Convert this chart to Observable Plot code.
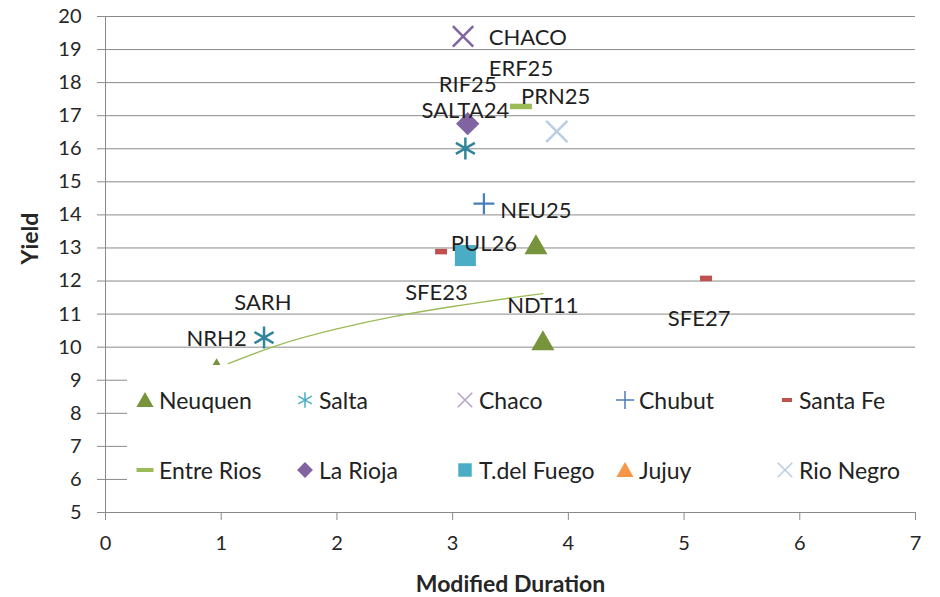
<!DOCTYPE html>
<html>
<head>
<meta charset="utf-8">
<script src="https://cdn.jsdelivr.net/npm/d3@7"></script>
<script src="https://cdn.jsdelivr.net/npm/@observablehq/plot@0.6"></script>
<style>
  html, body { margin: 0; padding: 0; background: #fff; }
  #wrap { position: relative; width: 940px; height: 597px; font-family: Lato, "Open Sans", sans-serif; }
  #legend { position: absolute; left: 127px; top: 365px; width: 800px; height: 146px; background: #fff; }
  .item { position: absolute; display: flex; align-items: center; height: 30px; font-size: 23px; color: #222; white-space: nowrap; }
  .item svg { width: 20px; height: 24px; margin-right: 4px; overflow: visible; }
</style>
</head>
<body>
<div id="wrap"><div id="legend"></div></div>
<script>
// ---- data ----
const xTicks = [0, 1, 2, 3, 4, 5, 6, 7];
const yTicks = [5, 6, 7, 8, 9, 10, 11, 12, 13, 14, 15, 16, 17, 18, 19, 20];
const xLabel = "Modified Duration";
const yLabel = "Yield";

const neuquen   = [{x: 0.96, y: 9.26}, {x: 3.72, y: 13.01}, {x: 3.78, y: 10.11}];
const salta     = [{x: 1.37, y: 10.29}, {x: 3.11, y: 16.01}];
const chaco     = [{x: 3.09, y: 19.40}];
const chubut    = [{x: 3.27, y: 14.34}];
const santaFe   = [{x: 2.90, y: 12.89}, {x: 5.19, y: 12.08}];
const entreRios = [{x: 3.59, y: 17.28}];
const laRioja   = [{x: 3.13, y: 16.76}];
const tdf       = [{x: 3.11, y: 12.77}];
const jujuy     = [];
const rioNegro  = [{x: 3.90, y: 16.52}];

// Neuquen trend line
const trend = [
  {x: 1.06, y: 9.50}, {x: 1.5, y: 10.07}, {x: 2.0, y: 10.55}, {x: 2.5, y: 10.93},
  {x: 3.0, y: 11.23}, {x: 3.5, y: 11.49}, {x: 3.78, y: 11.62}
];

// point labels (centre of each label, in data units)
const pointLabels = [
  {text: "CHACO",   x: 3.65, y: 19.36},
  {text: "ERF25",   x: 3.59, y: 18.40},
  {text: "RIF25",   x: 3.13, y: 17.93},
  {text: "SALTA24", x: 3.11, y: 17.14},
  {text: "PRN25",   x: 3.89, y: 17.58},
  {text: "NEU25",   x: 3.72, y: 14.13},
  {text: "PUL26",   x: 3.27, y: 13.13},
  {text: "SFE23",   x: 2.86, y: 11.65},
  {text: "NDT11",   x: 3.78, y: 11.26},
  {text: "SFE27",   x: 5.13, y: 10.85},
  {text: "SARH",    x: 1.36, y: 11.35},
  {text: "NRH2",    x: 0.96, y: 10.26}
];

const seriesNames  = ["Neuquen", "Salta", "Chaco", "Chubut", "Santa Fe", "Entre Rios", "La Rioja", "T.del Fuego", "Jujuy", "Rio Negro"];
const legendColors = ["#77933C", "#4BACC6", "#B3A2C7", "#4A7EBB", "#C0504D", "#9BBB59", "#8064A2", "#4BACC6", "#F79646", "#B9CDE5"];
const legendKinds  = ["triangle", "asterisk", "times", "plus", "dash", "dash", "diamond", "square", "triangle", "times"];

// ---- symbols ----
const dash = {
  draw(context, size) {
    const r = Math.sqrt(size / Math.PI);
    context.rect(-r, -2.75, 2 * r, 5.5);
  }
};

// ---- chart ----
const chart = Plot.plot({
  width: 940,
  height: 597,
  marginLeft: 105,
  marginRight: 25,
  marginTop: 16,
  marginBottom: 85,
  x: {domain: [0, 7]},
  y: {domain: [5, 20]},
  style: {fontFamily: "Lato, 'Open Sans', sans-serif", fontSize: "20px", color: "#222", background: "#fff"},
  marks: [
    Plot.ruleY(yTicks.filter(d => d > 5), {stroke: "#8a8a8a", strokeWidth: 1}),
    Plot.ruleX([0], {stroke: "#8a8a8a", strokeWidth: 1}),
    Plot.ruleY([5], {stroke: "#8a8a8a", strokeWidth: 1}),
    Plot.axisY({ticks: yTicks, tickFormat: d => String(d), tickSize: 8, tickPadding: 16, label: null, stroke: "#8a8a8a", fill: "#262626", fontSize: 20}),
    Plot.axisX({ticks: xTicks, tickFormat: d => String(d), tickSize: 8, tickPadding: 15, label: null, stroke: "#8a8a8a", fill: "#262626", fontSize: 20}),
    Plot.text([xLabel], {frameAnchor: "bottom", dy: 79, fontWeight: "bold", fontSize: 23, fill: "#262626"}),
    Plot.text([yLabel], {frameAnchor: "left", dx: -75, rotate: -90, fontWeight: "bold", fontSize: 23, fill: "#262626"}),
    Plot.line(trend, {x: "x", y: "y", stroke: "#9BBB59", strokeWidth: 1.3, curve: "natural"}),
    Plot.dot(neuquen,   {x: "x", y: "y", symbol: "triangle2", r: 11, fill: "#77933C", stroke: "none"}),
    Plot.dot(salta,     {x: "x", y: "y", symbol: "asterisk", r: 10.4, stroke: "#31859C", strokeWidth: 2.5, fill: "none"}),
    Plot.dot(chaco,     {x: "x", y: "y", symbol: "times", r: 9.3, stroke: "#7F64A2", strokeWidth: 2.5, fill: "none"}),
    Plot.dot(chubut,    {x: "x", y: "y", symbol: "plus", r: 6.8, stroke: "#4A7EBB", strokeWidth: 2.2, fill: "none"}),
    Plot.dot(santaFe,   {x: "x", y: "y", symbol: dash, r: 6, fill: "#C0504D", stroke: "none"}),
    Plot.dot(entreRios, {x: "x", y: "y", symbol: dash, r: 11, fill: "#9BBB59", stroke: "none"}),
    Plot.dot(laRioja,   {x: "x", y: "y", symbol: "diamond2", r: 10.5, fill: "#8064A2", stroke: "none"}),
    Plot.dot(tdf,       {x: "x", y: "y", symbol: "square2", r: 13.4, fill: "#4BACC6", stroke: "none"}),
    Plot.dot(jujuy,     {x: "x", y: "y", symbol: "triangle2", r: 11, fill: "#F79646", stroke: "none"}),
    Plot.dot(rioNegro,  {x: "x", y: "y", symbol: "times", r: 9.7, stroke: "#B9CDE5", strokeWidth: 2.5, fill: "none"}),
    Plot.text(pointLabels, {x: "x", y: "y", text: "text", fontSize: 22, fill: "#1f1f1f"})
  ]
});
document.getElementById("wrap").prepend(chart);
chart.style.display = "block";

// ---- legend ----
function legendPath(kind) {
  switch (kind) {
    case "triangle": return {d: d3.symbol(d3.symbolTriangle2, 210)(), fill: true};
    case "asterisk": return {d: d3.symbol(d3.symbolAsterisk, 170)(), fill: false};
    case "times":    return {d: d3.symbol(d3.symbolTimes, 140)(), fill: false};
    case "plus":     return {d: d3.symbol(d3.symbolPlus, 110)(), fill: false};
    case "diamond":  return {d: d3.symbol(d3.symbolDiamond2, 160)(), fill: true};
    case "square":   return {d: d3.symbol(d3.symbolSquare2, 230)(), fill: true};
    default: return null;
  }
}
const legend = document.getElementById("legend");
seriesNames.forEach((name, i) => {
  const row = Math.floor(i / 5), col = i % 5;
  const item = document.createElement("div");
  item.className = "item";
  item.style.left = (8 + col * 160) + "px";
  item.style.top = (20 + row * 70) + "px";
  const ns = "http://www.w3.org/2000/svg";
  const svg = document.createElementNS(ns, "svg");
  svg.setAttribute("viewBox", "-10 -12 20 24");
  const kind = legendKinds[i];
  const color = legendColors[i];
  if (kind === "dash") {
    const rect = document.createElementNS(ns, "rect");
    const w = name === "Santa Fe" ? 10 : 17;
    rect.setAttribute("x", -w / 2 + (name === "Santa Fe" ? 2 : 0));
    rect.setAttribute("y", -2);
    rect.setAttribute("width", w);
    rect.setAttribute("height", 4);
    rect.setAttribute("fill", color);
    svg.appendChild(rect);
  } else {
    const p = legendPath(kind);
    const path = document.createElementNS(ns, "path");
    path.setAttribute("d", p.d);
    if (p.fill) { path.setAttribute("fill", color); }
    else { path.setAttribute("fill", "none"); path.setAttribute("stroke", color); path.setAttribute("stroke-width", 1.5); }
    if (kind === "triangle") path.setAttribute("transform", "translate(0,2)");
    svg.appendChild(path);
  }
  item.appendChild(svg);
  const span = document.createElement("span");
  span.textContent = name;
  item.appendChild(span);
  legend.appendChild(item);
});
</script>
</body>
</html>
